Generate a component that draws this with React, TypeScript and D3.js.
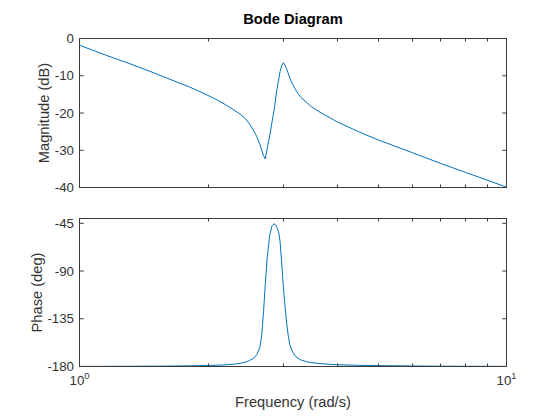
import * as d3 from "d3";
import React from "react";

// values
const freq = [1, 1.1, 1.2, 1.3, 1.4, 1.5, 1.6, 1.7, 1.8, 1.9, 2, 2.1, 2.2, 2.3, 2.377, 2.45, 2.5, 2.56, 2.6, 2.645, 2.672, 2.698, 2.724, 2.752, 2.79, 2.82, 2.86, 2.896, 2.925, 2.949, 2.975, 3.002, 3.03, 3.057, 3.085, 3.11, 3.15, 3.2, 3.25, 3.3, 3.405, 3.5, 3.659, 4, 4.5, 5, 6, 7, 8, 9, 10];
const magDb = [-1.8, -3.6, -5.2, -6.6, -8.0, -9.3, -10.6, -11.8, -12.9, -14.1, -15.3, -16.5, -17.8, -19.2, -20.3, -21.6, -22.9, -24.8, -26.3, -28.4, -30.0, -31.5, -32.3, -29.5, -26, -22.8, -18.8, -14, -11.2, -8.9, -7.3, -6.5, -7.2, -8.3, -9.5, -10.6, -12.1, -13.6, -14.8, -15.8, -17.2, -18.4, -19.8, -22.3, -25.0, -27.2, -30.6, -33.5, -35.9, -38.0, -39.9];
const phaseDeg = [-179.9, -179.9, -179.8, -179.8, -179.7, -179.7, -179.6, -179.5, -179.4, -179.2, -179.0, -178.8, -178.4, -177.8, -177, -175.8, -174.5, -172, -169, -162, -150, -128, -102, -77, -56, -48, -45.3, -48.5, -53, -62, -82, -105, -124, -140, -152, -160, -165.5, -170, -172.2, -173.8, -175.5, -176.3, -177.3, -178.3, -178.9, -179.2, -179.5, -179.7, -179.8, -179.8, -179.9];

const magTicks = [0, -10, -20, -30, -40];
const phaseTicks = [-45, -90, -135, -180];
const minorFreqTicks = [2, 3, 4, 5, 6, 7, 8, 9];
const decadeTicks = [{ v: 1, exp: "0" }, { v: 10, exp: "1" }];

const W = 560;
const H = 420;
const left = 79.5;
const right = 506.5;
const font = "'Liberation Sans', Arial, Helvetica, sans-serif";
const ink = "#333333";
const boxInk = "#3a3a3a";
const lineColor = "#0072BD";

const x = d3.scaleLog().domain([1, 10]).range([left, right]);

interface PanelProps {
    top: number;
    bottom: number;
    values: number[];
    domain: [number, number];
    ticks: number[];
    label: string;
    labelX: number;
}

const Panel: React.FC<PanelProps> = ({ top, bottom, values, domain, ticks, label, labelX }) => {
    const y = d3.scaleLinear().domain(domain).range([bottom, top]);
    const line = d3.line<number>()
        .x((_, i) => x(freq[i]))
        .y(d => y(d));
    const mid = (top + bottom) / 2;

    return (
        <g>
            <path d={line(values)!} fill="none" stroke={lineColor} strokeWidth={1} />
            <rect x={left} y={top} width={right - left} height={bottom - top}
                fill="none" stroke={boxInk} strokeWidth={1} />
            {minorFreqTicks.map(f => (
                <g key={f}>
                    <line x1={Math.round(x(f)) + 0.5} x2={Math.round(x(f)) + 0.5} y1={bottom} y2={bottom - 3} stroke={boxInk} />
                    <line x1={Math.round(x(f)) + 0.5} x2={Math.round(x(f)) + 0.5} y1={top} y2={top + 3} stroke={boxInk} />
                </g>
            ))}
            {ticks.map(t => (
                <g key={t}>
                    <line x1={left} x2={left + 4.3} y1={y(t)} y2={y(t)} stroke={boxInk} />
                    <line x1={right} x2={right - 4.3} y1={y(t)} y2={y(t)} stroke={boxInk} />
                    <text x={74} y={y(t)} dy="0.35em" textAnchor="end" fontSize={13.3}
                        fontFamily={font} fill={ink}>{t}</text>
                </g>
            ))}
            <text transform={`translate(${labelX}, ${mid}) rotate(-90)`} textAnchor="middle"
                fontSize={14.7} fontFamily={font} fill={ink}>{label}</text>
        </g>
    );
};

const App: React.FC = () => {
    return (
        <svg width={W} height={H} style={{ position: "absolute", left: 0, top: 0, background: "white" }}>
            <text x={293} y={24} textAnchor="middle" fontSize={14.7} fontWeight="bold"
                fontFamily={font} fill="#000">Bode Diagram</text>
            <Panel top={38.5} bottom={187.5} values={magDb} domain={[-40, 0]}
                ticks={magTicks} label="Magnitude (dB)" labelX={49} />
            <Panel top={218.5} bottom={366.5} values={phaseDeg} domain={[-180, -40.5]}
                ticks={phaseTicks} label="Phase (deg)" labelX={41.5} />
            {decadeTicks.map(d => (
                <text key={d.v} x={x(d.v)} y={385} textAnchor="middle" fontSize={13.3}
                    fontFamily={font} fill={ink}>
                    10<tspan dy={-6.5} fontSize={9.3}>{d.exp}</tspan>
                </text>
            ))}
            <text x={293} y={407} textAnchor="middle" fontSize={14.7}
                fontFamily={font} fill={ink}>Frequency (rad/s)</text>
        </svg>
    );
};

export default App;
